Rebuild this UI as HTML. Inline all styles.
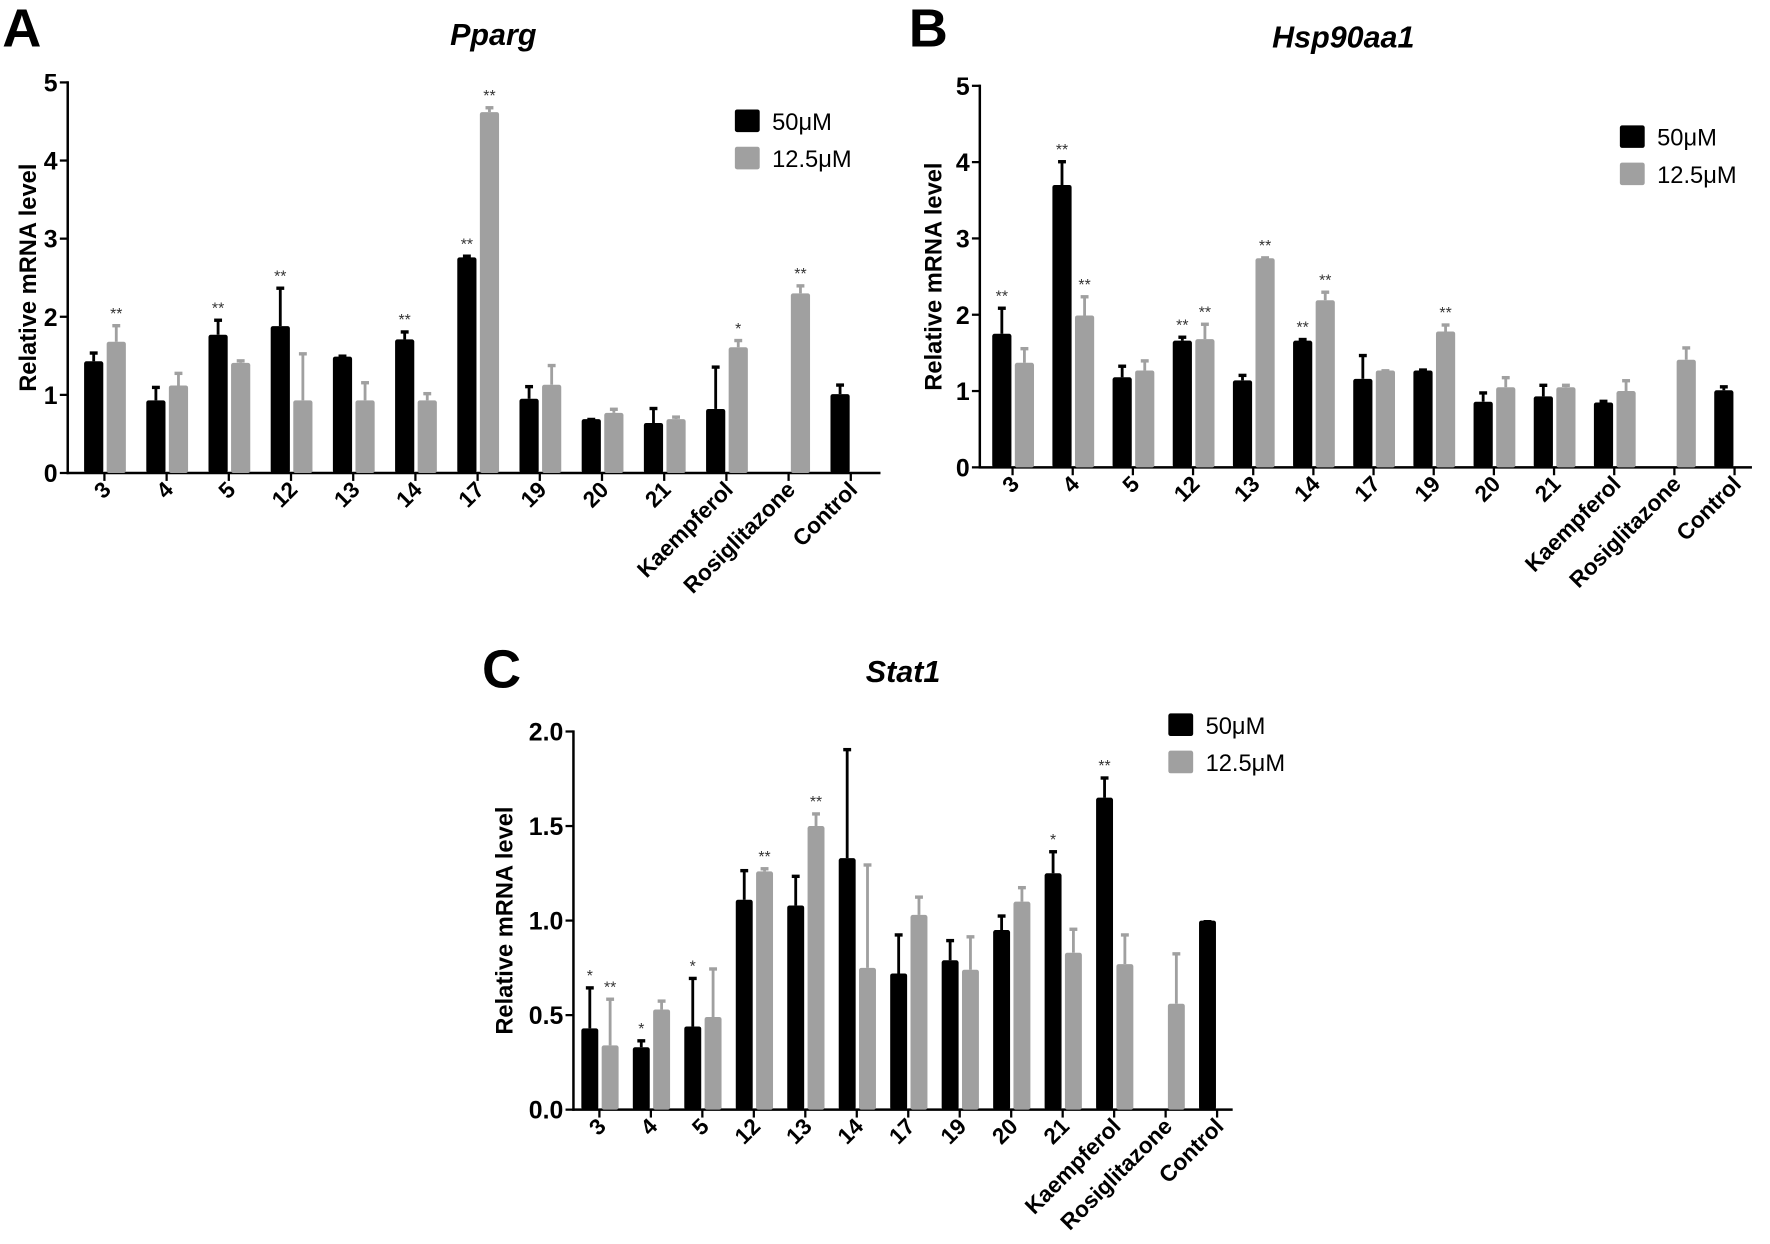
<!DOCTYPE html>
<html><head><meta charset="utf-8"><style>
html,body{margin:0;padding:0;background:#fff;}
svg{display:block;font-family:"Liberation Sans",Arial,sans-serif;}
</style></head><body>
<svg id="s" width="1770" height="1244" viewBox="0 0 1568 1102" xmlns="http://www.w3.org/2000/svg"></svg>
<script>
const NS="http://www.w3.org/2000/svg";
const svg=document.getElementById('s');
function el(t,a,txt){const e=document.createElementNS(NS,t);for(const k in a)e.setAttribute(k,a[k]);if(txt!==undefined)e.textContent=txt;svg.appendChild(e);return e;}
const labels=["3","4","5","12","13","14","17","19","20","21","Kaempferol","Rosiglitazone","Control"];
function panel(p){
  const {ax,x1,y0,yTop,vmax,ticks,t0,sp,bw,data,letter,lx,ly,title,tx,ty,leg,ylabX,fmt}=p;
  const sc=(y0-yTop)/vmax;
  const Y=v=>y0-v*sc;
  el('text',{x:lx,y:ly,'font-size':48,'font-weight':'bold'},letter);
  el('text',{x:tx,y:ty,'font-size':27,'font-weight':'bold','font-style':'italic','text-anchor':'middle'},title);
  el('line',{x1:ax,y1:yTop-1,x2:ax,y2:y0+1,stroke:'#000','stroke-width':2.2});
  el('line',{x1:ax-1,y1:y0,x2:x1,y2:y0,stroke:'#000','stroke-width':2.2});
  ticks.forEach(v=>{el('line',{x1:ax-7,y1:Y(v),x2:ax,y2:Y(v),stroke:'#000','stroke-width':2});
    el('text',{x:ax-9,y:Y(v)+8,'font-size':22,'font-weight':'bold','text-anchor':'end'},fmt?v.toFixed(1):v);});
  el('text',{x:ylabX,y:(y0+yTop)/2,'font-size':21,'font-weight':'bold','text-anchor':'middle',transform:`rotate(-90 ${ylabX} ${(y0+yTop)/2})`},'Relative mRNA level');
  data.forEach((d,i)=>{
    const t=t0+i*sp;
    el('line',{x1:t,y1:y0,x2:t,y2:y0+7,stroke:'#000','stroke-width':2});
    el('text',{x:t+7,y:y0+16,'font-size':20,'font-weight':'bold','text-anchor':'end',transform:`rotate(-45 ${t+7} ${y0+16})`},labels[i]);
    [[d[0],d[1],d[2],'#000',t-1-bw],[d[3],d[4],d[5],'#a0a0a0',t+2]].forEach(b=>{
      const [v,e,st,c,x]=b; if(v==null)return;
      const cx=x+bw/2;
      el('line',{x1:cx,y1:Y(e),x2:cx,y2:Y(v),stroke:c,'stroke-width':2.5});
      el('line',{x1:cx-3.5,y1:Y(e)+1,x2:cx+3.5,y2:Y(e)+1,stroke:c,'stroke-width':3});
      el('rect',{x:x,y:Y(v),width:bw,height:y0-Y(v),fill:c,rx:2});
      if(st)el('text',{x:cx,y:Y(e)-5,'font-size':14,'text-anchor':'middle',fill:'#333'},st);
    });
  });
  el('rect',{x:leg[0],y:leg[1],width:22,height:20,fill:'#000',rx:2});
  el('text',{x:leg[0]+33,y:leg[1]+18,'font-size':21},'50μM');
  el('rect',{x:leg[0],y:leg[1]+33,width:22,height:20,fill:'#a0a0a0',rx:2});
  el('text',{x:leg[0]+33,y:leg[1]+51,'font-size':21},'12.5μM');
}
panel({ax:60,x1:780,y0:419,yTop:73,vmax:5,ticks:[0,1,2,3,4,5],t0:92.5,sp:55.1,bw:17,letter:'A',lx:2,ly:41,title:'Pparg',tx:437,ty:40,leg:[651,97],ylabX:32,
data:[[1.43,1.55,'',1.68,1.90,'**'],[0.93,1.11,'',1.12,1.29,''],[1.77,1.97,'**',1.41,1.45,''],[1.88,2.38,'**',0.93,1.54,''],[1.49,1.51,'',0.93,1.17,''],[1.71,1.82,'**',0.93,1.03,''],[2.76,2.79,'**',4.62,4.69,'**'],[0.95,1.12,'',1.13,1.39,''],[0.69,0.70,'',0.77,0.83,''],[0.64,0.84,'',0.69,0.73,''],[0.82,1.37,'',1.61,1.71,'*'],[null,0,'',2.30,2.41,'**'],[1.01,1.14,'',null,0,'']]});
panel({ax:868,x1:1552,y0:414,yTop:76,vmax:5,ticks:[0,1,2,3,4,5],t0:897,sp:53.3,bw:17,letter:'B',lx:805,ly:41,title:'Hsp90aa1',tx:1190,ty:42,leg:[1435,111],ylabX:834,
data:[[1.75,2.1,'**',1.37,1.57,''],[3.7,4.02,'**',1.99,2.25,'**'],[1.18,1.34,'',1.27,1.41,''],[1.66,1.72,'**',1.68,1.89,'**'],[1.14,1.22,'',2.74,2.76,'**'],[1.66,1.69,'**',2.19,2.31,'**'],[1.16,1.48,'',1.27,1.28,''],[1.27,1.29,'',1.78,1.88,'**'],[0.86,0.99,'',1.05,1.19,''],[0.93,1.09,'',1.05,1.09,''],[0.85,0.88,'',1.00,1.15,''],[null,0,'',1.41,1.58,''],[1.01,1.07,'',null,0,'']]});
panel({ax:508,x1:1092,y0:983,yTop:648,vmax:2,ticks:[0,0.5,1,1.5,2],fmt:1,t0:531,sp:45.6,bw:15,letter:'C',lx:427,ly:609,title:'Stat1',tx:800,ty:604,leg:[1035,632],ylabX:454,
data:[[0.43,0.65,'*',0.34,0.59,'**'],[0.33,0.37,'*',0.53,0.58,''],[0.44,0.70,'*',0.49,0.75,''],[1.11,1.27,'',1.26,1.28,'**'],[1.08,1.24,'',1.50,1.57,'**'],[1.33,1.91,'',0.75,1.30,''],[0.72,0.93,'',1.03,1.13,''],[0.79,0.90,'',0.74,0.92,''],[0.95,1.03,'',1.10,1.18,''],[1.25,1.37,'*',0.83,0.96,''],[1.65,1.76,'**',0.77,0.93,''],[null,0,'',0.56,0.83,''],[1.00,1.00,'',null,0,'']]});
</script>
</body></html>
